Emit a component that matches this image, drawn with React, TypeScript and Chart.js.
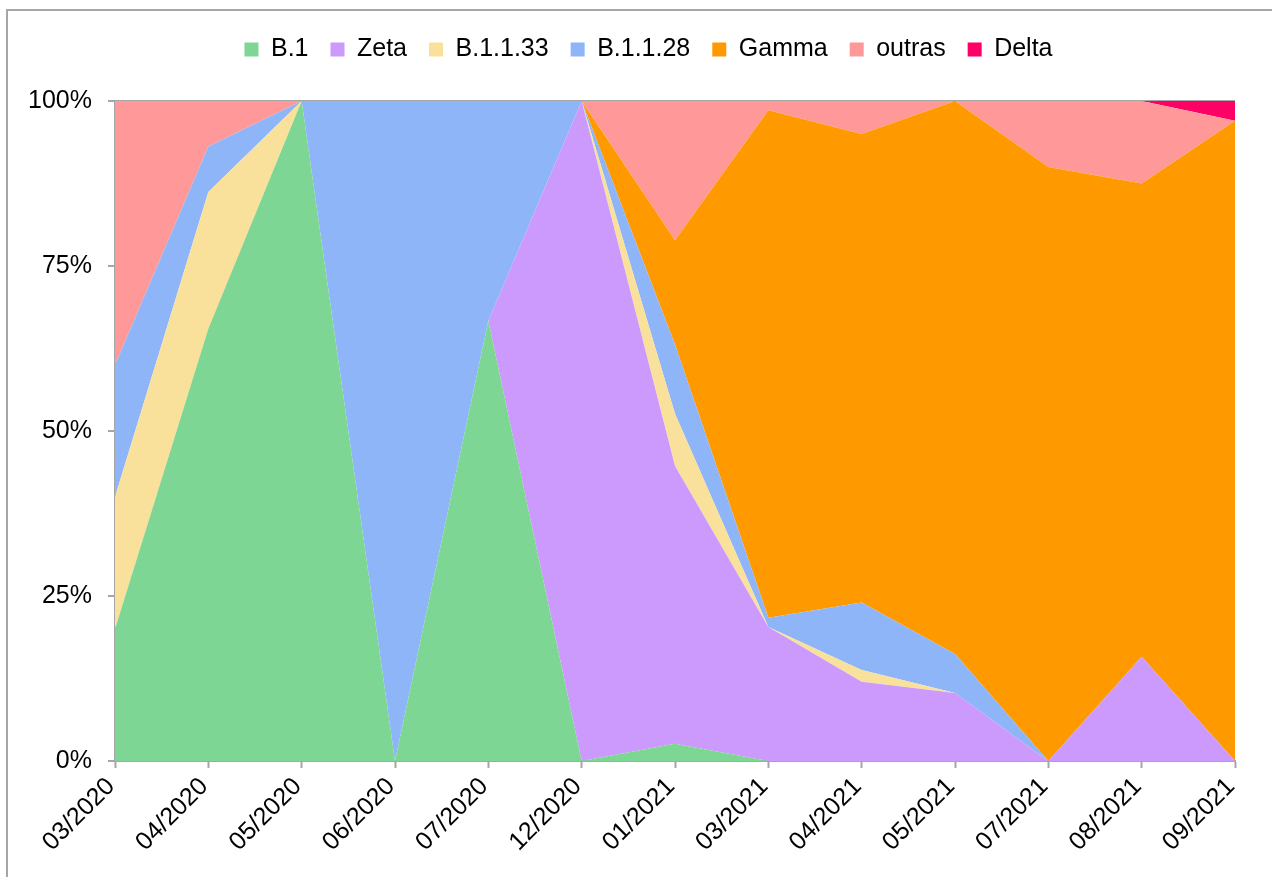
import { useEffect, useRef } from 'react';
import { Chart, registerables } from 'chart.js';

Chart.register(...registerables);

const categories = ['03/2020', '04/2020', '05/2020', '06/2020', '07/2020', '12/2020', '01/2021', '03/2021', '04/2021', '05/2021', '07/2021', '08/2021', '09/2021'];
const b1 = [20, 65.5, 100, 0, 66.7, 0, 2.6, 0, 0, 0, 0, 0, 0];
const zeta = [0, 0, 0, 0, 0, 100, 42.1, 20.3, 12.0, 10.3, 0, 15.8, 0];
const b1133 = [20, 20.7, 0, 0, 0, 0, 7.9, 0, 1.8, 0, 0, 0, 0];
const b1128 = [20, 6.9, 0, 100, 33.3, 0, 10.5, 1.4, 10.2, 5.9, 0, 0, 0];
const gamma = [0, 0, 0, 0, 0, 0, 15.8, 76.9, 71.0, 83.8, 90, 71.7, 97];
const outras = [40, 6.9, 0, 0, 0, 0, 21.1, 1.4, 5.0, 0, 10, 12.5, 0];
const delta = [0, 0, 0, 0, 0, 0, 0, 0, 0, 0, 0, 0, 3];
const yTicks = [0, 25, 50, 75, 100];

const FONT = "'Liberation Sans', Arial, sans-serif";
const GRAY = '#a6a6a6';

const series = [
  { label: 'B.1', data: b1, color: '#7dd694' },
  { label: 'Zeta', data: zeta, color: '#cc99fc' },
  { label: 'B.1.1.33', data: b1133, color: '#fae19b' },
  { label: 'B.1.1.28', data: b1128, color: '#8eb5f8' },
  { label: 'Gamma', data: gamma, color: '#ff9900' },
  { label: 'outras', data: outras, color: '#ff9999' },
  { label: 'Delta', data: delta, color: '#ff0066' },
];

export default function App() {
  const ref = useRef<HTMLCanvasElement>(null);
  useEffect(() => {
    document.body.style.margin = '0';
    document.body.style.overflow = 'hidden';
    const legendSpacer = {
      id: 'legendSpacer',
      beforeUpdate(chart: any) {
        const l = chart.legend;
        if (l && !l.__patched) {
          const f = l.fit;
          l.fit = function () {
            f.call(this);
            this.height += 34;
          };
          const d = l.draw;
          l.draw = function () {
            const ctx = this.ctx;
            ctx.save();
            ctx.translate(31, 5);
            d.call(this);
            ctx.restore();
          };
          l.__patched = true;
        }
      },
    };
    const chart = new Chart(ref.current as HTMLCanvasElement, {
      type: 'line',
      data: {
        labels: categories,
        datasets: series.map((s, i) => ({
          label: s.label,
          data: s.data,
          backgroundColor: s.color,
          borderColor: s.color,
          borderWidth: 0,
          pointRadius: 0,
          pointHoverRadius: 0,
          fill: i === 0 ? 'origin' : '-1',
          tension: 0,
        })),
      },
      options: {
        responsive: false,
        animation: false,
        layout: { padding: { top: 10, right: 37, left: 0, bottom: 0 } },
        plugins: {
          tooltip: { enabled: false },
          legend: {
            position: 'top',
            align: 'center',
            labels: {
              boxWidth: 14,
              boxHeight: 14,
              padding: 22,
              color: '#000',
              font: { family: FONT, size: 25 },
            },
          },
        },
        scales: {
          x: {
            type: 'category',
            offset: false,
            z: 1,
            afterFit(scale: any) {
              scale.height = 116;
            },
            border: { color: GRAY, width: 2 },
            grid: { drawOnChartArea: false, drawTicks: true, tickLength: 7, tickColor: GRAY, tickWidth: 2 },
            ticks: {
              autoSkip: false,
              maxRotation: 45,
              minRotation: 45,
              padding: 4,
              labelOffset: -4,
              color: '#000',
              font: { family: FONT, size: 25 },
            },
          },
          y: {
            stacked: true,
            min: 0,
            max: 100,
            z: 1,
            afterFit(scale: any) {
              scale.width = 115;
            },
            afterBuildTicks(scale: any) {
              scale.ticks = yTicks.map((v) => ({ value: v }));
            },
            border: { color: GRAY, width: 2 },
            grid: {
              drawOnChartArea: true,
              drawTicks: true,
              tickLength: 7,
              tickColor: GRAY,
              lineWidth: 2,
              color: (ctx: any) => (ctx.tick && ctx.tick.value === 100 ? GRAY : 'rgba(0,0,0,0)'),
            },
            ticks: {
              padding: 16,
              color: '#000',
              font: { family: FONT, size: 25 },
              callback: (v: any) => v + '%',
            },
          },
        },
      },
      plugins: [legendSpacer],
    } as any);
    return () => chart.destroy();
  }, []);
  return (
    <div style={{ position: 'relative', width: 1272, height: 877, overflow: 'hidden', background: '#fff' }}>
      <div
        style={{
          position: 'absolute',
          left: 6,
          top: 9,
          width: 1400,
          height: 1000,
          border: `2px solid ${GRAY}`,
        }}
      />
      <canvas ref={ref} width={1272} height={877} style={{ position: 'absolute', left: 0, top: 0 }} />
    </div>
  );
}
